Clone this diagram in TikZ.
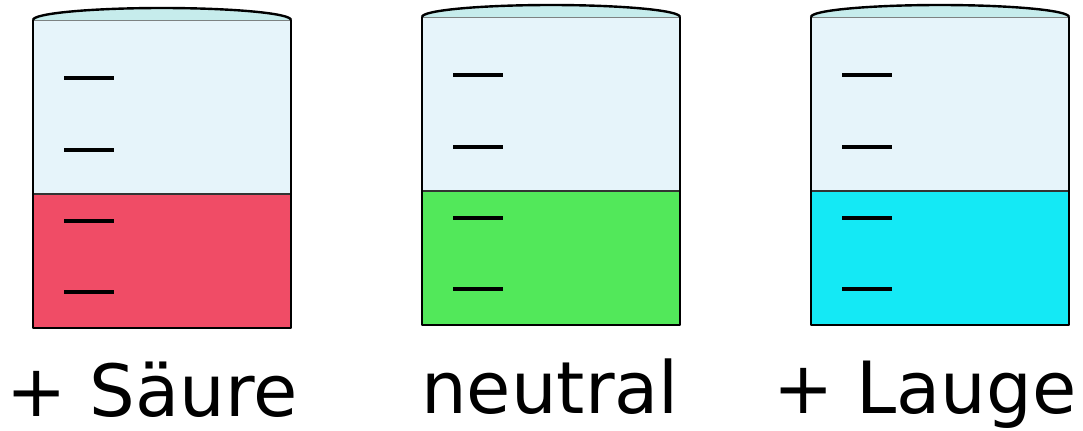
\documentclass[tikz,border=0pt]{standalone}
\usepackage{fontspec}
\setmainfont{DejaVu Sans}
\definecolor{glass}{HTML}{E6F4FA}
\definecolor{rimfill}{HTML}{C6ECEC}
\definecolor{acid}{HTML}{F04C66}
\definecolor{neutralgreen}{HTML}{52E85A}
\definecolor{lye}{HTML}{14E9F5}
\begin{document}
\begin{tikzpicture}[
  x=0.75pt, y=-0.75pt,
  wall/.style={draw=black, line width=1.8pt, line join=round},
  rimline/.style={draw=black!55, line width=1pt},
  level/.style={draw=black!80, line width=1pt},
  tick/.style={draw=black, line width=3.3pt},
  caption/.style={anchor=base, inner sep=0pt, font=\fontsize{54}{60}\selectfont}
]
  \useasboundingbox (0,0) rectangle (1083,430);

  \foreach \bx/\by/\liq/\lx/\txt/\nm in {
      33/20/acid/152/{+ Säure}/saeure,
      422/17/neutralgreen/550/neutral/neutral,
      811/17/lye/925/{+ Lauge}/lauge} {
    % glass and liquid
    \fill[glass] (\bx,\by) rectangle (\bx+258,\by+174);
    \fill[\liq] (\bx,\by+174) rectangle (\bx+258,\by+308);
    \draw[level] (\bx,\by+174) -- (\bx+258,\by+174);
    % rim
    \draw[rimline] (\bx,\by) -- (\bx+258,\by);
    \filldraw[fill=rimfill, wall] (\bx,\by) arc[start angle=180, end angle=360, x radius=129, y radius=12];
    \draw[wall] (\bx,\by) -- (\bx,\by+308) -- (\bx+258,\by+308) -- (\bx+258,\by);
    % scale marks
    \foreach \ty in {58,130,201,272}
      \draw[tick] (\bx+31,\by+\ty) -- (\bx+81,\by+\ty);
    \node[caption] (\nm) at (\lx,\by+396) {\txt};
  }
\end{tikzpicture}
\end{document}
